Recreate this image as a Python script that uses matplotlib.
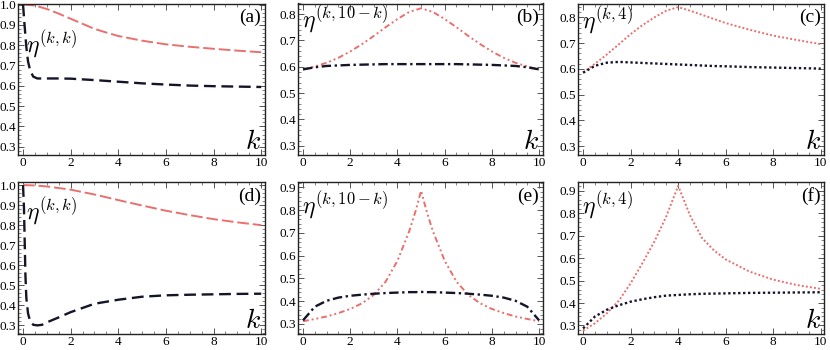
import matplotlib
matplotlib.use("Agg")
import matplotlib.pyplot as plt
from matplotlib.ticker import MultipleLocator

plt.rcParams['font.family'] = ['Liberation Serif', 'DejaVu Serif']
plt.rcParams['mathtext.fontset'] = 'cm'

RED = '#e8706e'
DARK = '#15152a'

# Panel (a): eta^(k,k), upper row
ka_red = [0, 0.5, 1, 1.5, 2, 2.5, 3, 3.5, 4, 5, 6, 7, 8, 9, 10]
a_red = [1.0, 0.995, 0.978, 0.955, 0.93, 0.905, 0.88, 0.862, 0.845, 0.822, 0.804, 0.792, 0.782, 0.773, 0.765]
ka_blk = [0, 0.07, 0.14, 0.21, 0.3, 0.43, 0.6, 1, 1.5, 2, 3, 4, 5, 6, 7, 8, 9, 10]
a_blk = [1.0, 0.89, 0.79, 0.72, 0.675, 0.645, 0.636, 0.636, 0.636, 0.635, 0.628, 0.62, 0.612, 0.606, 0.601, 0.598, 0.596, 0.594]

# Panel (b): eta^(k,10-k)
kb = [0, 0.5, 1, 1.5, 2, 2.5, 3, 3.5, 4, 4.5, 5, 5.5, 6, 6.5, 7, 7.5, 8, 8.5, 9, 9.5, 10]
b_red = [0.590, 0.601, 0.615, 0.634, 0.658, 0.686, 0.717, 0.750, 0.781, 0.808, 0.822,
         0.808, 0.781, 0.750, 0.717, 0.686, 0.658, 0.634, 0.615, 0.601, 0.590]
b_blk = [0.590, 0.598, 0.603, 0.605, 0.607, 0.608, 0.609, 0.610, 0.610, 0.610, 0.610,
         0.610, 0.610, 0.610, 0.609, 0.608, 0.607, 0.605, 0.603, 0.598, 0.590]

# Panel (c): eta^(k,4)
kc = [0, 0.5, 1, 1.5, 2, 2.5, 3, 3.5, 4, 4.5, 5, 5.5, 6, 7, 8, 9, 10]
c_red = [0.586, 0.62, 0.656, 0.695, 0.735, 0.77, 0.80, 0.826, 0.84, 0.826, 0.81, 0.794, 0.778, 0.752, 0.729, 0.712, 0.696]
c_blk = [0.585, 0.612, 0.624, 0.627, 0.625, 0.623, 0.621, 0.619, 0.617, 0.615, 0.613, 0.611, 0.61, 0.607, 0.605, 0.603, 0.601]

# Panel (d): eta^(k,k), lower row
kd_red = [0, 0.5, 1, 1.5, 2, 3, 4, 5, 6, 7, 8, 9, 10]
d_red = [1.0, 0.998, 0.993, 0.985, 0.977, 0.953, 0.925, 0.898, 0.872, 0.85, 0.83, 0.814, 0.80]
kd_blk = [0, 0.04, 0.07, 0.1, 0.14, 0.21, 0.3, 0.43, 0.6, 0.8, 1, 1.5, 2, 3, 4, 5, 6, 7, 8, 9, 10]
d_blk = [1.0, 0.884, 0.72, 0.552, 0.436, 0.36, 0.32, 0.303, 0.30, 0.303, 0.315, 0.34, 0.366,
         0.408, 0.428, 0.443, 0.45, 0.453, 0.455, 0.457, 0.458]

# Panel (e): eta^(k,10-k)
ke = [0, 0.5, 1, 1.5, 2, 2.5, 3, 3.5, 4, 4.5, 4.75, 5, 5.25, 5.5, 6, 6.5, 7, 7.5, 8, 8.5, 9, 9.5, 10]
e_red = [0.312, 0.322, 0.333, 0.348, 0.366, 0.391, 0.428, 0.486, 0.578, 0.708, 0.79, 0.885,
         0.79, 0.708, 0.578, 0.486, 0.428, 0.391, 0.366, 0.348, 0.333, 0.322, 0.312]
e_blk = [0.316, 0.376, 0.402, 0.416, 0.424, 0.429, 0.433, 0.436, 0.438, 0.440, 0.440, 0.441,
         0.440, 0.440, 0.438, 0.436, 0.433, 0.429, 0.424, 0.416, 0.402, 0.376, 0.316]

# Panel (f): eta^(k,4)
kf = [0, 0.5, 1, 1.5, 2, 2.5, 3, 3.5, 4, 4.5, 5, 5.5, 6, 7, 8, 9, 10]
f_red = [0.277, 0.31, 0.354, 0.41, 0.488, 0.578, 0.674, 0.786, 0.922, 0.79, 0.69, 0.635, 0.594, 0.54, 0.504, 0.48, 0.463]
f_blk = [0.287, 0.34, 0.37, 0.39, 0.406, 0.417, 0.426, 0.433, 0.436, 0.439, 0.441, 0.442, 0.443, 0.445, 0.446, 0.447, 0.448]

panels = [
    dict(pos=[0.022, 0.557, 0.297, 0.433], ylim=(0.259, 1.005), ls='dash',
         red=(ka_red, a_red), blk=(ka_blk, a_blk), lab='(a)',
         eta=r'$\eta^{(k,k)}$', etapos=(0.03, 0.83)),
    dict(pos=[0.3594, 0.557, 0.2944, 0.433], ylim=(0.265, 0.84), ls='dashdot',
         red=(kb, b_red), blk=(kb, b_blk), lab='(b)',
         eta=r'$\eta^{(k,10-k)}$', etapos=(0.014, 0.995)),
    dict(pos=[0.6968, 0.557, 0.2964, 0.433], ylim=(0.265, 0.854), ls='dot',
         red=(kc, c_red), blk=(kc, c_blk), lab='(c)',
         eta=r'$\eta^{(k,4)}$', etapos=(0.014, 0.99)),
    dict(pos=[0.022, 0.0457, 0.297, 0.433], ylim=(0.257, 1.013), ls='dash',
         red=(kd_red, d_red), blk=(kd_blk, d_blk), lab='(d)',
         eta=r'$\eta^{(k,k)}$', etapos=(0.033, 0.91)),
    dict(pos=[0.3594, 0.0457, 0.2944, 0.433], ylim=(0.256, 0.922), ls='dashdot',
         red=(ke, e_red), blk=(ke, e_blk), lab='(e)',
         eta=r'$\eta^{(k,10-k)}$', etapos=(0.014, 0.95)),
    dict(pos=[0.6968, 0.0457, 0.2964, 0.433], ylim=(0.262, 0.937), ls='dot',
         red=(kf, f_red), blk=(kf, f_blk), lab='(f)',
         eta=r'$\eta^{(k,4)}$', etapos=(0.014, 0.95)),
]

styles = {
    'dash': ((0, (6, 2)), (0, (5, 2.4))),
    'dashdot': ((0, (3, 1.5, 1, 1.5, 1, 1.5)), (0, (4, 1.5, 1, 1.5))),
    'dot': ((0, (1, 1.1)), (0, (1, 1.1))),
}

fig = plt.figure(figsize=(8.3, 3.5), dpi=100)
for i, p in enumerate(panels):
    ax = fig.add_axes(p['pos'])
    red_ls, blk_ls = styles[p['ls']]
    ax.plot(*p['red'], color=RED, lw=1.4, ls=red_ls)
    ax.plot(*p['blk'], color=DARK, lw=1.7, ls=blk_ls)
    ax.set_xlim(-0.2, 10.15)
    ax.set_ylim(*p['ylim'])
    ax.xaxis.set_major_locator(MultipleLocator(2))
    ax.xaxis.set_minor_locator(MultipleLocator(0.5))
    ax.yaxis.set_major_locator(MultipleLocator(0.1))
    ax.yaxis.set_minor_locator(MultipleLocator(0.02))
    ax.yaxis.set_major_formatter(lambda v, pos: f'{v:.1f}')
    ax.tick_params(which='both', direction='in', top=True, right=True,
                   labelsize=9.5, pad=1.5, color='#555555')
    ax.tick_params(which='major', length=4, width=0.7)
    ax.tick_params(which='minor', length=2, width=0.5)
    for s in ax.spines.values():
        s.set_linewidth(1.0)
        s.set_color('#222222')
    ax.text(*p['etapos'], p['eta'], transform=ax.transAxes, fontsize=17,
            ha='left', va='top')
    ax.text(0.985, 0.91, p['lab'], transform=ax.transAxes, fontsize=14,
            ha='right', va='center')
    if i != 4:
        ax.text(0.985, 0.08, r'$k$', transform=ax.transAxes, fontsize=20,
                ha='right', va='center')

fig.savefig('out.png', dpi=100)
